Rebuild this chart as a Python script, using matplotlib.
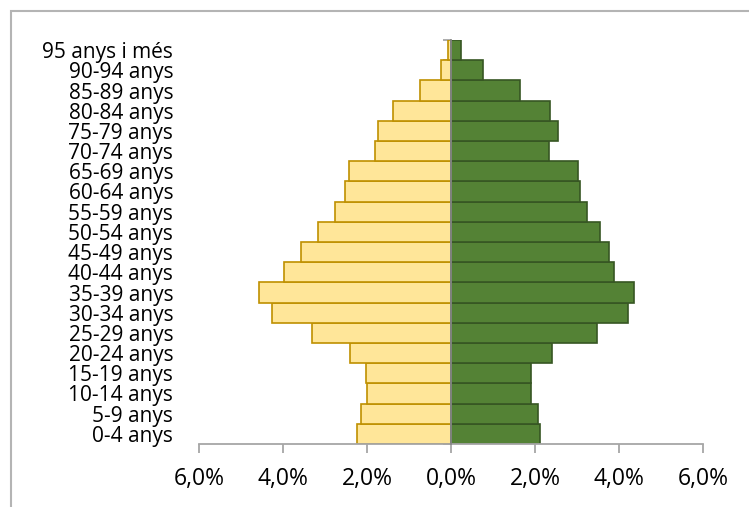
import numpy as np
import matplotlib.pyplot as plt
from matplotlib.patches import Rectangle
from matplotlib.ticker import FuncFormatter, FixedLocator

plt.rcParams['font.family'] = ['Open Sans', 'DejaVu Sans']

grups = ['0-4 anys', '5-9 anys', '10-14 anys', '15-19 anys', '20-24 anys',
         '25-29 anys', '30-34 anys', '35-39 anys', '40-44 anys', '45-49 anys',
         '50-54 anys', '55-59 anys', '60-64 anys', '65-69 anys', '70-74 anys',
         '75-79 anys', '80-84 anys', '85-89 anys', '90-94 anys', '95 anys i més']

# % of total population per age group
homes = [2.25, 2.15, 2.00, 2.03, 2.41, 3.30, 4.27, 4.58, 3.98, 3.58,
         3.17, 2.77, 2.53, 2.42, 1.81, 1.74, 1.38, 0.75, 0.24, 0.07]
dones = [2.13, 2.07, 1.91, 1.90, 2.41, 3.48, 4.21, 4.35, 3.88, 3.75,
         3.55, 3.24, 3.06, 3.02, 2.33, 2.54, 2.36, 1.65, 0.75, 0.23]

fig = plt.figure(figsize=(7.49, 5.07), dpi=100)
ax = fig.add_axes([199 / 749, 63 / 507, 504 / 749, 404 / 507])

y = np.arange(len(grups))
ax.barh(y, -np.array(homes), height=1.0, color='#FFE699',
        edgecolor='#BF9000', linewidth=1.2, zorder=2)
ax.barh(y, dones, height=1.0, color='#548235',
        edgecolor='#375623', linewidth=1.2, zorder=2)

ax.set_xlim(-6, 6)
ax.set_ylim(-0.5, len(grups) - 0.5)
ax.set_xticks(np.arange(-6, 7, 2))
ax.xaxis.set_major_formatter(
    FuncFormatter(lambda v, p: f'{abs(v):.1f}%'.replace('.', ',')))

# vertical axis at zero, category labels pushed out to the left
ax.spines['left'].set_position(('data', 0))
ax.spines['left'].set_color('#868686')
ax.spines['left'].set_linewidth(1.3)
ax.spines['left'].set_zorder(3)
for s in ['top', 'right']:
    ax.spines[s].set_visible(False)
ax.spines['bottom'].set_color('#a6a6a6')
ax.spines['bottom'].set_linewidth(1.3)

ax.set_yticks(y)
ax.set_yticklabels(grups)
ax.tick_params(axis='y', length=0, pad=200, labelsize=15, colors='black')
ax.yaxis.set_minor_locator(FixedLocator(np.arange(-0.5, len(grups), 1.0)))
ax.tick_params(axis='y', which='minor', length=6, width=1.3, color='#a6a6a6')
ax.tick_params(axis='x', length=6.5, width=1.3, color='#a6a6a6',
               pad=10, labelsize=16.5)

fig.add_artist(Rectangle((11 / 749, -0.1), 1.2, 1 - 11 / 507 + 0.1,
                         transform=fig.transFigure, fill=False,
                         edgecolor='#b4b4b4', linewidth=1.5))

fig.savefig('out.png', dpi=100)
